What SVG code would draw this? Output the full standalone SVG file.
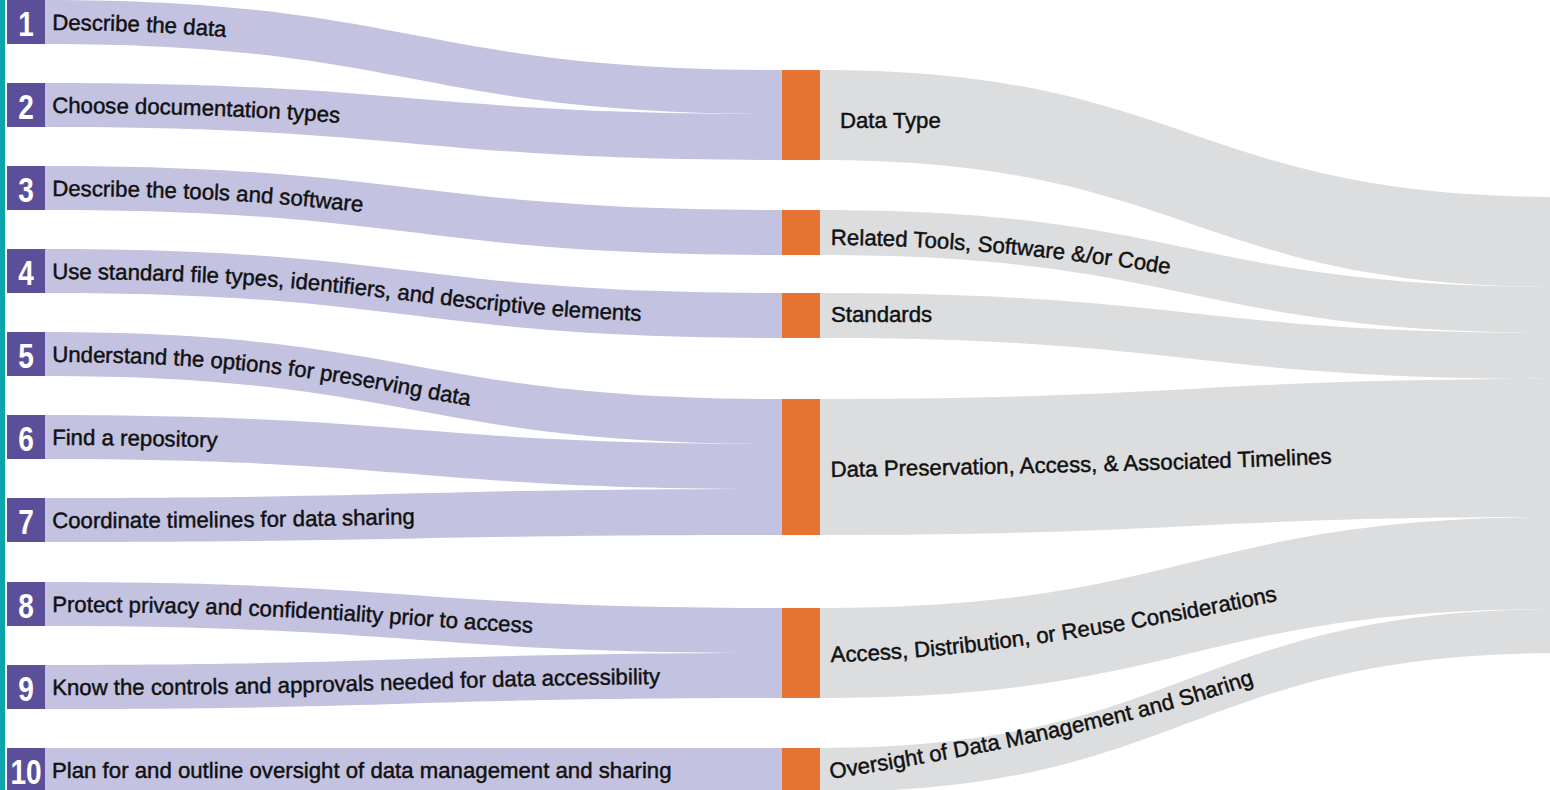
<svg xmlns="http://www.w3.org/2000/svg" width="1550" height="790" viewBox="0 0 1550 790">
<style>
.lav{fill:#c3c2e1}
.gry{fill:#dcdddf}
.box{fill:#5b4f9a}
.bar{fill:#e57331}
.num{font-family:"Liberation Sans",Arial,sans-serif;font-size:35px;font-weight:bold;fill:#ffffff;text-anchor:middle}
.lbl{font-family:"Liberation Sans",Arial,sans-serif;font-size:22.2px;fill:#111111;stroke:#111111;stroke-width:0.45}
</style>
<defs>
<path id="t1" d="M45 30 C413.5 30 413.5 100 782 100"/>
<path id="t2" d="M45 113 C413.5 113 413.5 145 782 145"/>
<path id="t3" d="M45 196 C413.5 196 413.5 240.5 782 240.5"/>
<path id="t4" d="M45 279 C413.5 279 413.5 323.5 782 323.5"/>
<path id="t5" d="M45 362 C413.5 362 413.5 429.5 782 429.5"/>
<path id="t6" d="M45 445 C413.5 445 413.5 474.5 782 474.5"/>
<path id="t7" d="M45 528 C413.5 528 413.5 520 782 520"/>
<path id="t8" d="M45 612 C413.5 612 413.5 638.5 782 638.5"/>
<path id="t9" d="M45 695 C413.5 695 413.5 683.5 782 683.5"/>
<path id="t10" d="M45 778 L782 778"/>
<path id="gRT" d="M831 245 C930 245 1050 255 1175 275"/>
<path id="gDP" d="M831 477 C1000 474 1200 470 1345 463"/>
<path id="gAC" d="M831 662 C950 660 1120 635 1295 597"/>
<path id="gOV" d="M831 779 C950 760 1120 730 1260 682"/>
</defs>
<rect x="0" y="0" width="1550" height="790" fill="#ffffff"/>
<rect x="0" y="0" width="5" height="790" fill="#0fa3ac"/>

<g id="connectors">
<path class="lav" d="M45 0 C413.5 0 413.5 70 782 70 L782 114 C413.5 114 413.5 44 45 44 Z"/>
<path class="lav" d="M45 83 C413.5 83 413.5 114 782 114 L782 160 C413.5 160 413.5 127 45 127 Z"/>
<path class="lav" d="M45 166 C413.5 166 413.5 210 782 210 L782 255 C413.5 255 413.5 210 45 210 Z"/>
<path class="lav" d="M45 249 C413.5 249 413.5 293 782 293 L782 338 C413.5 338 413.5 293 45 293 Z"/>
<path class="lav" d="M45 332 C413.5 332 413.5 399 782 399 L782 444 C413.5 444 413.5 376 45 376 Z"/>
<path class="lav" d="M45 415 C413.5 415 413.5 444 782 444 L782 489 C413.5 489 413.5 459 45 459 Z"/>
<path class="lav" d="M45 498 C413.5 498 413.5 489 782 489 L782 535 C413.5 535 413.5 542 45 542 Z"/>
<path class="lav" d="M45 582 C413.5 582 413.5 608 782 608 L782 653 C413.5 653 413.5 626 45 626 Z"/>
<path class="lav" d="M45 665 C413.5 665 413.5 653 782 653 L782 698 C413.5 698 413.5 709 45 709 Z"/>
<path class="lav" d="M45 748 L782 748 L782 792 L45 792 Z"/>
<path class="gry" d="M820 70 C1190 70 1190 197 1560 197 L1560 287 C1190 287 1190 160 820 160 Z"/>
<path class="gry" d="M820 210 C1190 210 1190 287 1560 287 L1560 333 C1190 333 1190 255 820 255 Z"/>
<path class="gry" d="M820 293 C1190 293 1190 333 1560 333 L1560 379 C1190 379 1190 338 820 338 Z"/>
<path class="gry" d="M820 399 C1190 399 1190 379 1560 379 L1560 517 C1190 517 1190 535 820 535 Z"/>
<path class="gry" d="M820 608 C1190 608 1190 517 1560 517 L1560 609 C1190 609 1190 698 820 698 Z"/>
<path class="gry" d="M820 748 C1190 748 1190 609 1560 609 L1560 653 C1190 653 1190 792 820 792 Z"/>
</g>

<g id="step1"><rect class="box" x="7" y="0" width="38" height="44"/><text class="num" transform="translate(26,36) scale(0.8,1)">1</text><text class="lbl"><textPath href="#t1" startOffset="7">Describe the data</textPath></text></g>
<g id="step2"><rect class="box" x="7" y="83" width="38" height="44"/><text class="num" transform="translate(26,119) scale(0.8,1)">2</text><text class="lbl"><textPath href="#t2" startOffset="7">Choose documentation types</textPath></text></g>
<g id="step3"><rect class="box" x="7" y="166" width="38" height="44"/><text class="num" transform="translate(26,202) scale(0.8,1)">3</text><text class="lbl"><textPath href="#t3" startOffset="7">Describe the tools and software</textPath></text></g>
<g id="step4"><rect class="box" x="7" y="249" width="38" height="44"/><text class="num" transform="translate(26,285) scale(0.8,1)">4</text><text class="lbl"><textPath href="#t4" startOffset="7">Use standard file types, identifiers, and descriptive elements</textPath></text></g>
<g id="step5"><rect class="box" x="7" y="332" width="38" height="44"/><text class="num" transform="translate(26,368) scale(0.8,1)">5</text><text class="lbl"><textPath href="#t5" startOffset="7">Understand the options for preserving data</textPath></text></g>
<g id="step6"><rect class="box" x="7" y="415" width="38" height="44"/><text class="num" transform="translate(26,451) scale(0.8,1)">6</text><text class="lbl"><textPath href="#t6" startOffset="7">Find a repository</textPath></text></g>
<g id="step7"><rect class="box" x="7" y="498" width="38" height="44"/><text class="num" transform="translate(26,534) scale(0.8,1)">7</text><text class="lbl"><textPath href="#t7" startOffset="7">Coordinate timelines for data sharing</textPath></text></g>
<g id="step8"><rect class="box" x="7" y="582" width="38" height="44"/><text class="num" transform="translate(26,618) scale(0.8,1)">8</text><text class="lbl"><textPath href="#t8" startOffset="7">Protect privacy and confidentiality prior to access</textPath></text></g>
<g id="step9"><rect class="box" x="7" y="665" width="38" height="44"/><text class="num" transform="translate(26,701) scale(0.8,1)">9</text><text class="lbl"><textPath href="#t9" startOffset="7">Know the controls and approvals needed for data accessibility</textPath></text></g>
<g id="step10"><rect class="box" x="7" y="748" width="38" height="44"/><text class="num" transform="translate(26,784) scale(0.8,1)">10</text><text class="lbl"><textPath href="#t10" startOffset="7">Plan for and outline oversight of data management and sharing</textPath></text></g>

<g id="cat-datatype"><rect class="bar" x="782" y="70" width="38" height="90"/><text class="lbl" x="840" y="128">Data Type</text></g>
<g id="cat-tools"><rect class="bar" x="782" y="210" width="38" height="45"/><text class="lbl"><textPath href="#gRT">Related Tools, Software &amp;/or Code</textPath></text></g>
<g id="cat-standards"><rect class="bar" x="782" y="293" width="38" height="45"/><text class="lbl" x="831" y="322">Standards</text></g>
<g id="cat-preservation"><rect class="bar" x="782" y="399" width="38" height="136"/><text class="lbl"><textPath href="#gDP">Data Preservation, Access, &amp; Associated Timelines</textPath></text></g>
<g id="cat-access"><rect class="bar" x="782" y="608" width="38" height="90"/><text class="lbl"><textPath href="#gAC">Access, Distribution, or Reuse Considerations</textPath></text></g>
<g id="cat-oversight"><rect class="bar" x="782" y="748" width="38" height="44"/><text class="lbl"><textPath href="#gOV">Oversight of Data Management and Sharing</textPath></text></g>
</svg>
